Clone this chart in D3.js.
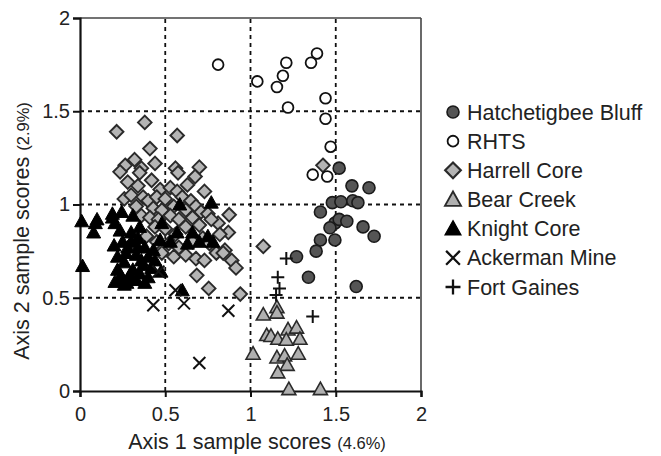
<!DOCTYPE html>
<html>
<head>
<meta charset="utf-8">
<script src="https://cdn.jsdelivr.net/npm/d3@7"></script>
<style>
  body { margin: 0; background: #fff; }
  svg { font-family: "Liberation Sans", Arial, sans-serif; }
</style>
</head>
<body>
<svg id="chart" width="661" height="456"></svg>
<script>
// Sample scores, [axis1, axis2]
const hatchetigbee = [
	[ 1.52, 1.195 ], [ 1.595, 1.10 ], [ 1.695, 1.09 ], [ 1.48, 1.01 ], [ 1.53, 1.015 ],
	[ 1.60, 1.02 ], [ 1.63, 1.01 ], [ 1.41, 0.96 ], [ 1.495, 0.90 ], [ 1.466, 0.875 ],
	[ 1.52, 0.92 ], [ 1.565, 0.91 ], [ 1.66, 0.88 ], [ 1.725, 0.83 ], [ 1.41, 0.81 ],
	[ 1.495, 0.81 ], [ 1.385, 0.75 ], [ 1.27, 0.72 ], [ 1.34, 0.61 ], [ 1.62, 0.56 ],
];
const rhts = [
	[ 0.81, 1.75 ], [ 1.04, 1.66 ], [ 1.155, 1.63 ], [ 1.19, 1.69 ], [ 1.21, 1.76 ],
	[ 1.22, 1.52 ], [ 1.355, 1.76 ], [ 1.39, 1.81 ], [ 1.44, 1.57 ], [ 1.44, 1.46 ],
	[ 1.47, 1.31 ], [ 1.365, 1.16 ], [ 1.45, 1.15 ],
];
const harrell = [
	[ 0.215, 1.39 ], [ 0.38, 1.44 ], [ 0.57, 1.37 ], [ 0.41, 1.30 ], [ 0.44, 1.22 ], [ 0.32, 1.24 ],
	[ 0.265, 1.21 ], [ 0.235, 1.175 ], [ 0.36, 1.195 ], [ 0.35, 1.17 ], [ 0.56, 1.195 ], [ 0.575, 1.17 ],
	[ 0.70, 1.20 ], [ 0.675, 1.15 ], [ 0.63, 1.105 ], [ 0.42, 1.13 ], [ 0.28, 1.12 ], [ 0.34, 1.10 ],
	[ 0.47, 1.08 ], [ 0.53, 1.09 ], [ 0.57, 1.07 ], [ 0.73, 1.07 ], [ 0.26, 1.03 ], [ 0.30, 1.05 ],
	[ 0.37, 1.04 ], [ 0.40, 1.02 ], [ 0.45, 1.04 ], [ 0.50, 1.03 ], [ 0.60, 1.04 ], [ 0.65, 1.02 ],
	[ 0.33, 0.99 ], [ 0.43, 0.98 ], [ 0.48, 0.97 ], [ 0.55, 0.99 ], [ 0.62, 0.97 ], [ 0.68, 0.99 ],
	[ 0.71, 0.96 ], [ 0.36, 0.94 ], [ 0.41, 0.93 ], [ 0.46, 0.92 ], [ 0.53, 0.94 ], [ 0.58, 0.92 ],
	[ 0.66, 0.93 ], [ 0.75, 0.95 ], [ 0.875, 0.945 ], [ 0.81, 0.90 ], [ 0.77, 0.92 ], [ 0.44, 0.88 ],
	[ 0.50, 0.87 ], [ 0.56, 0.84 ], [ 0.62, 0.88 ], [ 0.70, 0.89 ], [ 0.87, 0.85 ], [ 0.82, 0.84 ],
	[ 0.39, 0.83 ], [ 0.45, 0.80 ], [ 0.52, 0.79 ], [ 0.58, 0.77 ], [ 0.66, 0.80 ], [ 0.72, 0.82 ],
	[ 0.76, 0.79 ], [ 0.85, 0.755 ], [ 0.80, 0.74 ], [ 0.84, 0.74 ], [ 0.89, 0.70 ], [ 0.915, 0.66 ],
	[ 0.48, 0.74 ], [ 0.55, 0.72 ], [ 0.62, 0.73 ], [ 0.68, 0.71 ], [ 0.73, 0.70 ], [ 0.685, 0.62 ],
	[ 0.755, 0.55 ], [ 0.94, 0.52 ], [ 1.075, 0.775 ], [ 1.425, 1.21 ],
];
const bearCreek = [
	[ 1.155, 0.45 ], [ 1.155, 0.42 ], [ 1.075, 0.41 ], [ 1.22, 0.33 ], [ 1.27, 0.34 ], [ 1.095, 0.30 ],
	[ 1.12, 0.295 ], [ 1.16, 0.28 ], [ 1.21, 0.275 ], [ 1.29, 0.28 ], [ 1.015, 0.20 ], [ 1.155, 0.18 ],
	[ 1.20, 0.19 ], [ 1.28, 0.20 ], [ 1.215, 0.14 ], [ 1.16, 0.10 ], [ 1.225, 0.01 ], [ 1.41, 0.01 ],
];
const knight = [
	[ 0.01, 0.91 ], [ 0.015, 0.67 ], [ 0.09, 0.90 ], [ 0.10, 0.92 ], [ 0.08, 0.85 ], [ 0.19, 0.93 ],
	[ 0.245, 0.96 ], [ 0.205, 0.585 ], [ 0.245, 0.595 ], [ 0.275, 0.58 ], [ 0.33, 0.595 ], [ 0.38, 0.58 ],
	[ 0.60, 0.54 ], [ 0.19, 0.95 ], [ 0.31, 0.94 ], [ 0.35, 0.88 ], [ 0.205, 0.90 ], [ 0.235, 0.86 ],
	[ 0.30, 0.85 ], [ 0.38, 0.77 ], [ 0.43, 0.755 ], [ 0.26, 0.69 ], [ 0.24, 0.62 ], [ 0.31, 0.65 ],
	[ 0.37, 0.675 ], [ 0.40, 0.61 ], [ 0.44, 0.70 ], [ 0.475, 0.64 ], [ 0.33, 0.73 ], [ 0.40, 0.72 ],
	[ 0.47, 0.81 ], [ 0.28, 0.77 ], [ 0.585, 1.0 ], [ 0.77, 1.01 ], [ 0.57, 0.85 ], [ 0.66, 0.85 ],
	[ 0.75, 0.83 ], [ 0.78, 0.80 ], [ 0.63, 0.79 ], [ 0.53, 0.80 ], [ 0.48, 0.90 ],
	[ 0.29, 0.62 ], [ 0.35, 0.63 ], [ 0.42, 0.66 ], [ 0.22, 0.72 ], [ 0.25, 0.80 ], [ 0.30, 0.80 ],
	[ 0.34, 0.82 ], [ 0.27, 0.74 ], [ 0.36, 0.70 ], [ 0.20, 0.78 ], [ 0.26, 0.57 ], [ 0.30, 0.60 ],
	[ 0.70, 0.80 ], [ 0.34, 0.77 ], [ 0.22, 0.65 ],
];
const ackerman = [
	[ 0.46, 0.64 ], [ 0.56, 0.54 ], [ 0.43, 0.46 ], [ 0.61, 0.47 ], [ 0.87, 0.43 ], [ 0.70, 0.15 ],
];
const fortGaines = [
	[ 1.21, 0.71 ], [ 1.16, 0.61 ], [ 1.17, 0.55 ], [ 1.15, 0.515 ], [ 1.365, 0.40 ],
];

const legendLabels = [ 'Hatchetigbee Bluff', 'RHTS', 'Harrell Core', 'Bear Creek', 'Knight Core', 'Ackerman Mine', 'Fort Gaines' ];
const xTicks = [ 0, 0.5, 1, 1.5, 2 ];
const yTicks = [ 0, 0.5, 1, 1.5, 2 ];

const svg = d3.select( '#chart' );
const x = d3.scaleLinear().domain( [ 0, 2 ] ).range( [ 80, 421 ] );
const y = d3.scaleLinear().domain( [ 0, 2 ] ).range( [ 391, 18 ] );

// Grid lines
const grid = svg.append( 'g' )
	.attr( 'stroke', '#111' )
	.attr( 'stroke-width', 1.8 )
	.attr( 'stroke-dasharray', '4,4' );
grid.selectAll( '.gx' ).data( [ 0.5, 1, 1.5 ] ).enter().append( 'line' )
	.attr( 'x1', ( d ) => x( d ) ).attr( 'x2', ( d ) => x( d ) )
	.attr( 'y1', y( 0 ) ).attr( 'y2', y( 2 ) );
grid.selectAll( '.gy' ).data( [ 0.5, 1, 1.5 ] ).enter().append( 'line' )
	.attr( 'y1', ( d ) => y( d ) ).attr( 'y2', ( d ) => y( d ) )
	.attr( 'x1', x( 0 ) ).attr( 'x2', x( 2 ) );

// Frame
svg.append( 'line' ).attr( 'x1', x( 0 ) ).attr( 'x2', x( 2 ) ).attr( 'y1', y( 2 ) ).attr( 'y2', y( 2 ) )
	.attr( 'stroke', '#444' ).attr( 'stroke-width', 1.6 );
svg.append( 'line' ).attr( 'x1', x( 2 ) ).attr( 'x2', x( 2 ) ).attr( 'y1', y( 0 ) ).attr( 'y2', y( 2 ) )
	.attr( 'stroke', '#444' ).attr( 'stroke-width', 1.6 );

// Axes
const xAxis = svg.append( 'g' )
	.attr( 'transform', `translate(0,${ y( 0 ) })` )
	.call( d3.axisBottom( x ).tickValues( xTicks ).tickSize( 6 ).tickPadding( 10 ).tickFormat( d3.format( '' ) ) );
const yAxis = svg.append( 'g' )
	.attr( 'transform', `translate(${ x( 0 ) },0)` )
	.call( d3.axisLeft( y ).tickValues( yTicks ).tickSize( 7 ).tickPadding( 3 ).tickFormat( d3.format( '' ) ) );
[ xAxis, yAxis ].forEach( ( a ) => {
	a.select( '.domain' ).attr( 'stroke', '#111' ).attr( 'stroke-width', 2.2 );
	a.selectAll( '.tick line' ).attr( 'stroke', '#111' ).attr( 'stroke-width', 2 );
	a.selectAll( '.tick text' ).attr( 'font-size', 20 ).attr( 'fill', '#222' )
		.attr( 'font-family', '"Liberation Sans", Arial, sans-serif' );
} );

// Axis titles
const xTitle = svg.append( 'text' )
	.attr( 'x', 257 ).attr( 'y', 449 )
	.attr( 'text-anchor', 'middle' ).attr( 'fill', '#222' ).attr( 'font-size', 21.5 );
xTitle.append( 'tspan' ).text( 'Axis 1 sample scores ' );
xTitle.append( 'tspan' ).attr( 'font-size', 16.5 ).text( '(4.6%)' );

const yTitle = svg.append( 'text' )
	.attr( 'transform', 'translate(29,231) rotate(-90)' )
	.attr( 'text-anchor', 'middle' ).attr( 'fill', '#222' ).attr( 'font-size', 21.5 );
yTitle.append( 'tspan' ).text( 'Axis 2 sample scores ' );
yTitle.append( 'tspan' ).attr( 'font-size', 16.5 ).text( '(2.9%)' );

// Symbol painters
const triPath = 'M0,-7L7,5.5L-7,5.5Z';
const diaPath = 'M0,-6.8L6.8,0L0,6.8L-6.8,0Z';
const xPath = 'M-6,-6L6,6M-6,6L6,-6';
const plusPath = 'M-6.5,0L6.5,0M0,-6.5L0,6.5';

const styles = [
	{ data: hatchetigbee, draw: ( g ) => g.append( 'circle' ).attr( 'r', 6 ).attr( 'fill', '#555' ).attr( 'stroke', '#1a1a1a' ).attr( 'stroke-width', 1.6 ) },
	{ data: rhts, draw: ( g ) => g.append( 'circle' ).attr( 'r', 5.4 ).attr( 'fill', '#fff' ).attr( 'stroke', '#111' ).attr( 'stroke-width', 1.8 ) },
	{ data: harrell, draw: ( g ) => g.append( 'path' ).attr( 'd', diaPath ).attr( 'fill', '#b4b4b4' ).attr( 'stroke', '#2a2a2a' ).attr( 'stroke-width', 1.9 ) },
	{ data: bearCreek, draw: ( g ) => g.append( 'path' ).attr( 'd', triPath ).attr( 'fill', '#b0b0b0' ).attr( 'stroke', '#2a2a2a' ).attr( 'stroke-width', 1.6 ) },
	{ data: knight, draw: ( g ) => g.append( 'path' ).attr( 'd', triPath ).attr( 'fill', '#000' ).attr( 'stroke', '#000' ).attr( 'stroke-width', 1 ) },
	{ data: ackerman, draw: ( g ) => g.append( 'path' ).attr( 'd', xPath ).attr( 'fill', 'none' ).attr( 'stroke', '#111' ).attr( 'stroke-width', 2 ) },
	{ data: fortGaines, draw: ( g ) => g.append( 'path' ).attr( 'd', plusPath ).attr( 'fill', 'none' ).attr( 'stroke', '#111' ).attr( 'stroke-width', 2 ) },
];

// Draw order: harrell under knight, others on top
const order = [ 2, 4, 3, 1, 0, 5, 6 ];
order.forEach( ( i ) => {
	const s = styles[ i ];
	const layer = svg.append( 'g' );
	s.data.forEach( ( d ) => {
		const g = layer.append( 'g' ).attr( 'transform', `translate(${ x( d[ 0 ] ) },${ y( d[ 1 ] ) })` );
		s.draw( g );
	} );
} );

// Legend
const legendY = d3.scalePoint().domain( legendLabels ).range( [ 112, 287 ] );
legendLabels.forEach( ( label, i ) => {
	const g = svg.append( 'g' ).attr( 'transform', `translate(453,${ legendY( label ) })` );
	const mark = styles[ i ].draw( g );
	if ( i >= 2 ) {
		mark.attr( 'transform', 'scale(1.15)' );
	}
	g.append( 'text' ).attr( 'x', 14 ).attr( 'y', 7.5 ).attr( 'font-size', 21.5 ).attr( 'fill', '#222' ).text( label );
} );
</script>
</body>
</html>
